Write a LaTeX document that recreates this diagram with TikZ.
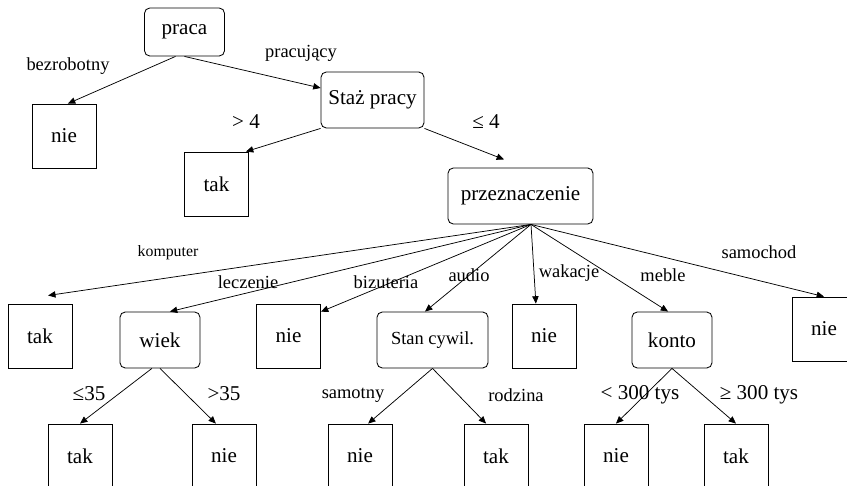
\documentclass[tikz,border=0pt]{standalone}
\usepackage{fontspec}
\setmainfont{Liberation Serif}
\usetikzlibrary{arrows.meta, positioning}

\begin{document}
\begin{tikzpicture}[
    dec/.style={rectangle, draw=black, rounded corners=5pt, line width=0.8pt,
                minimum height=1.867cm, font=\fontsize{20}{24}\selectfont},
    leaf/.style={rectangle, draw=black, line width=0.8pt,
                 minimum width=2.133cm, minimum height=2.133cm,
                 font=\fontsize{20}{24}\selectfont},
    lab/.style={inner sep=0pt, font=\fontsize{17.5}{21}\selectfont},
    cond/.style={inner sep=0pt, font=\fontsize{20}{24}\selectfont},
    arr/.style={-{Triangle[length=7pt, width=6pt]}, line width=0.7pt},
  ]
    \useasboundingbox (0,0) rectangle (28.233,-16.167);

    % Korzen i staz pracy
    \node[dec, minimum width=2.667cm, minimum height=1.6cm] (praca)
      at (6.15,-1.067) {praca};
    \node[dec, minimum width=3.433cm] (staz) at (12.417,-3.333) {Staż pracy};
    \node[leaf] (nie1) at (2.133,-4.533) {nie};
    \node[leaf] (tak1) at (7.217,-6.133) {tak};
    \node[dec, minimum width=4.833cm] (cel) at (17.35,-6.533) {przeznaczenie};

    % Drugi poziom
    \node[leaf] (tak2) at (1.333,-11.2) {tak};
    \node[dec, minimum width=2.667cm] (wiek) at (5.333,-11.333) {wiek};
    \node[leaf] (nie2) at (9.617,-11.2) {nie};
    \node[dec, minimum width=3.7cm, font=\fontsize{17.5}{21}\selectfont] (stan)
      at (14.417,-11.333) {Stan cywil.};
    \node[leaf] (nie3) at (18.133,-11.2) {nie};
    \node[dec, minimum width=2.667cm] (konto) at (22.4,-11.333) {konto};
    \node[leaf] (nie4) at (27.467,-10.967) {nie};

    % Liscie na dole
    \node[leaf] (tak3) at (2.667,-15.2) {tak};
    \node[leaf] (nie5) at (7.467,-15.2) {nie};
    \node[leaf] (nie6) at (12,-15.2) {nie};
    \node[leaf] (tak4) at (16.533,-15.2) {tak};
    \node[leaf] (nie7) at (20.533,-15.2) {nie};
    \node[leaf] (tak5) at (24.533,-15.2) {tak};

    % Etykiety galezi
    \node[lab] (lbez) at (2.267,-2.2) {bezrobotny};
    \node[lab] (lprac) at (10.033,-1.767) {pracujący};
    \node[cond] (lgt4) at (8.2,-4.067) {> 4};
    \node[cond] (lle4) at (16.2,-4.067) {≤ 4};
    \node[lab, font=\fontsize{15}{18}\selectfont] (lkomp) at (5.6,-8.433) {komputer};
    \node[lab] (llecz) at (8.267,-9.4) {leczenie};
    \node[lab] (lbiz) at (12.867,-9.4) {bizuteria};
    \node[lab] (laud) at (15.633,-9.167) {audio};
    \node[lab] (lwak) at (18.967,-9.1) {wakacje};
    \node[lab] (lmeb) at (22.1,-9.167) {meble};
    \node[lab] (lsam) at (25.3,-8.4) {samochod};
    \node[cond] (lle35) at (2.967,-13.133) {≤35};
    \node[cond] (lgt35) at (7.467,-13.133) {>35};
    \node[lab] (lsamo) at (11.767,-13.167) {samotny};
    \node[lab] (lrodz) at (17.2,-13.167) {rodzina};
    \node[cond] (llt300) at (21.333,-13.167) {< 300 tys};
    \node[cond] (lge300) at (25.3,-13.167) {≥ 300 tys};

    % Oklar
    \draw[arr] ([xshift=-0.3cm]praca.south) -- ([xshift=0.13cm]nie1.north);
    \draw[arr] (praca.south) -- ([yshift=0.4cm]staz.west);
    \draw[arr] (staz.south west) -- ([xshift=-0.1cm]tak1.north east);
    \draw[arr] (staz.south east) -- ([shift={(-0.55,0.27)}]cel.north);

    \coordinate (fan) at ([xshift=0.35cm]cel.south);
    \draw[arr] (fan) -- ([shift={(0.27,0.27)}]tak2.north);
    \draw[arr] (fan) -- ([xshift=0.33cm]wiek.north);
    \draw[arr] (fan) -- ([yshift=-0.27cm]nie2.north east);
    \draw[arr] (fan) -- ([xshift=-0.25cm]stan.north);
    \draw[arr] (fan) -- ([xshift=-0.27cm]nie3.north);
    \draw[arr] (fan) -- ([xshift=-0.13cm]konto.north);
    \draw[arr] (fan) -- (nie4.north);

    \draw[arr] ([xshift=-0.27cm]wiek.south) -- (tak3.north);
    \draw[arr] (wiek.south) -- ([xshift=-0.27cm]nie5.north);
    \draw[arr] (stan.south) -- ([xshift=0.27cm]nie6.north);
    \draw[arr] (stan.south) -- ([xshift=-0.33cm]tak4.north);
    \draw[arr] (konto.south) -- (nie7.north);
    \draw[arr] (konto.south) -- (tak5.north);
  \end{tikzpicture}
\end{document}
